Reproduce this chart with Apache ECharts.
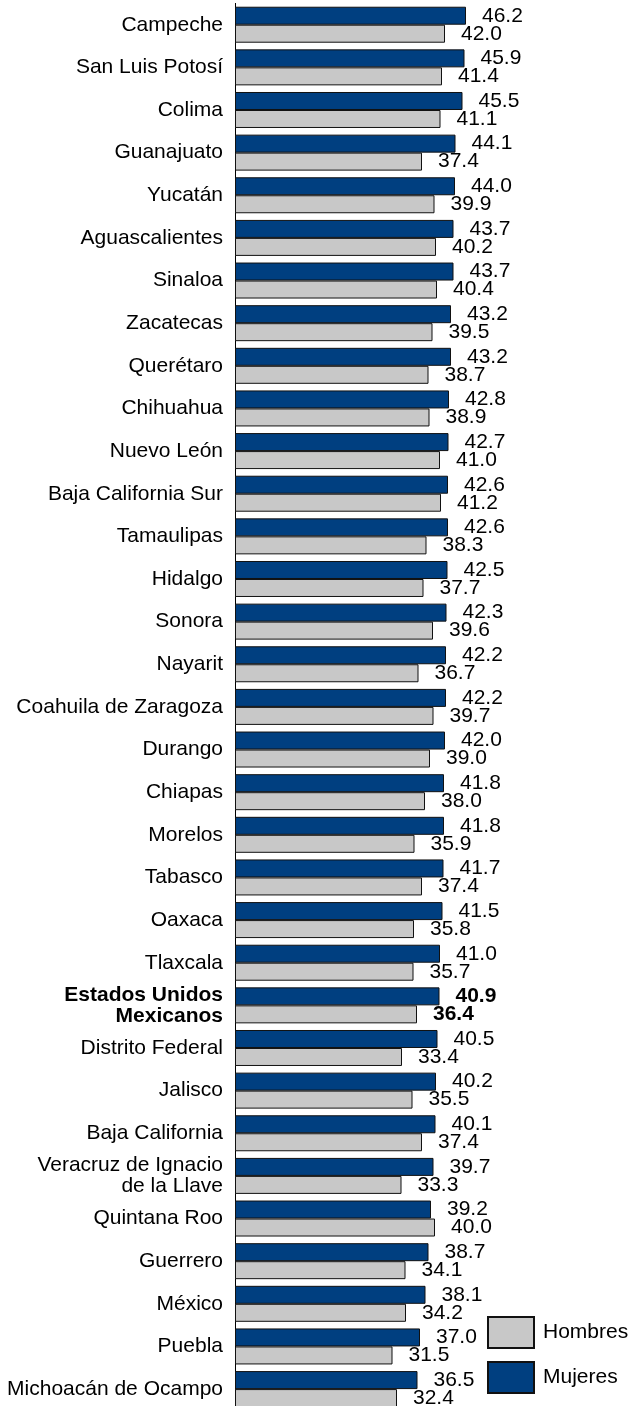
<!DOCTYPE html>
<html>
<head>
<meta charset="utf-8">
<script src="https://cdn.jsdelivr.net/npm/echarts@6/dist/echarts.min.js"></script>
<style>
html,body{margin:0;padding:0;background:#fff;overflow:hidden;}
#chart{width:631px;height:1420px;}
</style>
</head>
<body>
<div id="chart"></div>
<script>
const categories = [
  'Campeche','San Luis Potosí','Colima','Guanajuato','Yucatán','Aguascalientes','Sinaloa','Zacatecas',
  'Querétaro','Chihuahua','Nuevo León','Baja California Sur','Tamaulipas','Hidalgo','Sonora','Nayarit',
  'Coahuila de Zaragoza','Durango','Chiapas','Morelos','Tabasco','Oaxaca','Tlaxcala',
  'Estados Unidos\nMexicanos','Distrito Federal','Jalisco','Baja California','Veracruz de Ignacio\nde la Llave',
  'Quintana Roo','Guerrero','México','Puebla','Michoacán de Ocampo'
];
const mujeres = [46.2,45.9,45.5,44.1,44.0,43.7,43.7,43.2,43.2,42.8,42.7,42.6,42.6,42.5,42.3,42.2,42.2,42.0,41.8,41.8,41.7,41.5,41.0,40.9,40.5,40.2,40.1,39.7,39.2,38.7,38.1,37.0,36.5];
const hombres = [42.0,41.4,41.1,37.4,39.9,40.2,40.4,39.5,38.7,38.9,41.0,41.2,38.3,37.7,39.6,36.7,39.7,39.0,38.0,35.9,37.4,35.8,35.7,36.4,33.4,35.5,37.4,33.3,40.0,34.1,34.2,31.5,32.4];
const boldCategory = 'Estados Unidos\nMexicanos';

const FONT = 'Liberation Sans, Arial, sans-serif';
const FS = 21;

function toData(arr) {
  return arr.map((v, i) => {
    const item = { value: v };
    if (categories[i] === boldCategory) item.label = { fontWeight: 'bold' };
    return item;
  });
}

const chart = echarts.init(document.getElementById('chart'));
chart.setOption({
  animation: false,
  backgroundColor: '#fff',
  grid: { left: 235, top: 3.4, width: 396, height: 1407, containLabel: false },
  legend: {
    orient: 'vertical',
    left: 487,
    top: 1316,
    padding: 0,
    itemWidth: 46,
    itemHeight: 31,
    itemGap: 12,
    icon: 'rect',
    data: ['Hombres', 'Mujeres'],
    textStyle: { fontFamily: FONT, fontSize: FS, color: '#000', padding: [0, 0, 0, 4] }
  },
  xAxis: {
    type: 'value', min: 0, max: 79.2, show: false
  },
  yAxis: {
    type: 'category',
    inverse: true,
    data: categories,
    axisLine: { show: true, lineStyle: { color: '#000', width: 1 } },
    axisTick: { show: false },
    axisLabel: {
      margin: 12,
      fontFamily: FONT,
      fontSize: FS,
      color: '#000',
      lineHeight: 21,
      formatter: function (v) {
        if (v === boldCategory) {
          return v.split('\n').map(s => '{b|' + s + '}').join('\n');
        }
        return v;
      },
      rich: {
        b: { fontFamily: FONT, fontSize: FS, fontWeight: 'bold', color: '#000', lineHeight: 21 }
      }
    },
    splitLine: { show: false }
  },
  series: [
    {
      name: 'Mujeres',
      type: 'bar',
      data: toData(mujeres),
      barGap: '0%',
      barCategoryGap: '15.6%',
      itemStyle: { color: '#003F80', borderColor: '#111', borderWidth: 1 },
      label: {
        show: true, position: 'right', distance: 16,
        fontFamily: FONT, fontSize: FS, color: '#000',
        formatter: p => p.value.toFixed(1)
      }
    },
    {
      name: 'Hombres',
      type: 'bar',
      data: toData(hombres),
      barGap: '0%',
      barCategoryGap: '15.6%',
      itemStyle: { color: '#C8C8C8', borderColor: '#111', borderWidth: 1 },
      label: {
        show: true, position: 'right', distance: 16,
        fontFamily: FONT, fontSize: FS, color: '#000',
        formatter: p => p.value.toFixed(1)
      }
    }
  ]
});
</script>
</body>
</html>
